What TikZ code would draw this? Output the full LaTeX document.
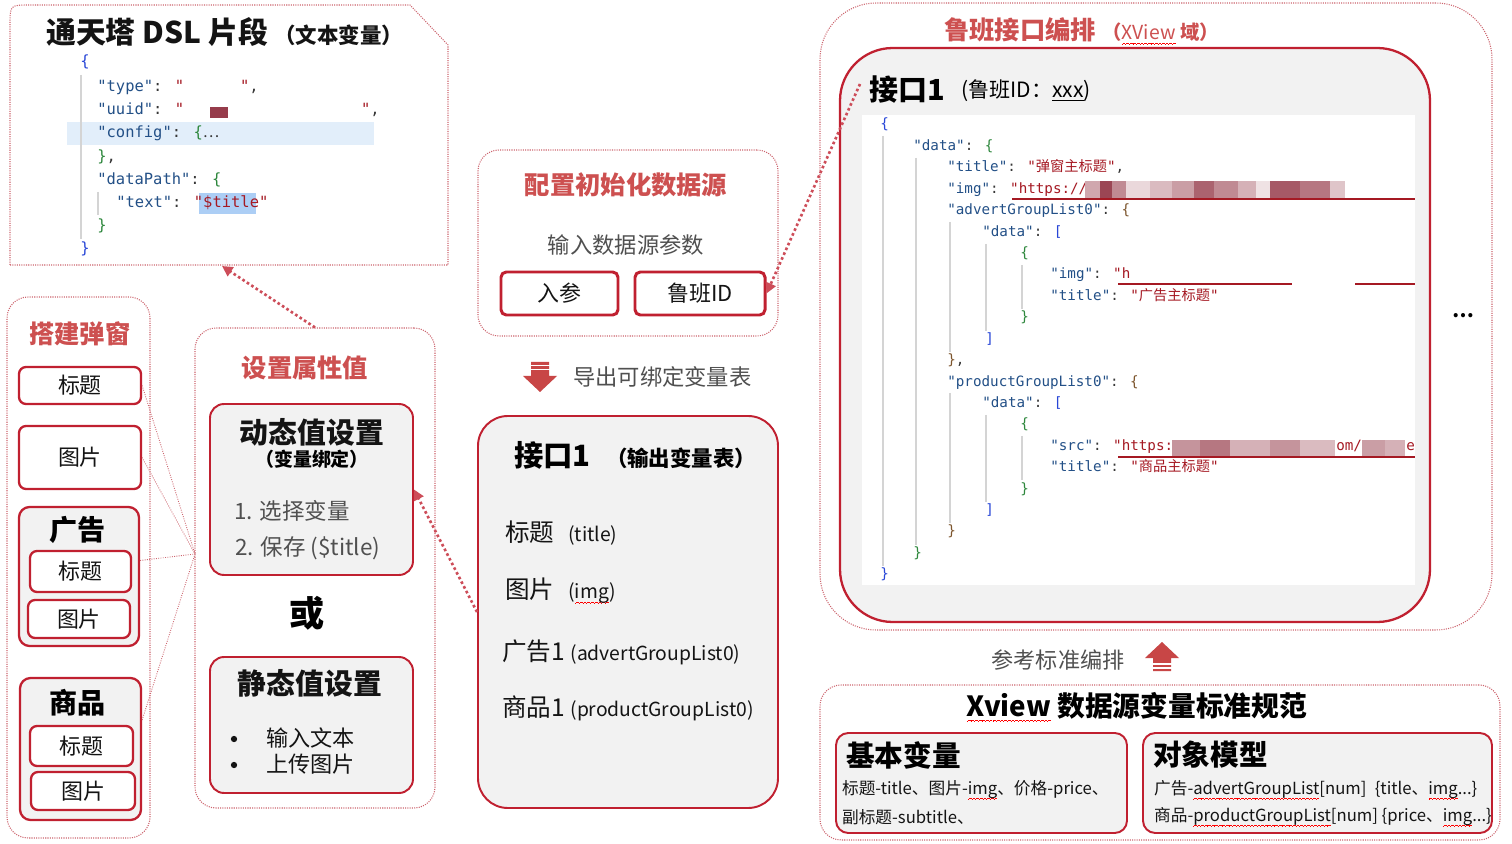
\documentclass[tikz,border=0pt]{standalone}
\usepackage{fontspec}
\setmainfont{Noto Sans CJK SC}
\newfontfamily\cjk{Noto Sans CJK SC}
\newfontfamily\codefont{DejaVu Sans Mono}
\usetikzlibrary{positioning, fit, calc, arrows.meta}
\definecolor{myred}{RGB}{192,32,48}
\definecolor{titlered}{RGB}{205,80,80}
\definecolor{dotred}{RGB}{205,100,110}
\definecolor{panelgray}{RGB}{242,242,242}
\definecolor{txtgray}{RGB}{80,80,80}
\definecolor{mydark}{RGB}{20,20,20}
\definecolor{codekey}{RGB}{35,80,135}
\definecolor{codestr}{RGB}{165,25,35}
\definecolor{codeblue}{RGB}{40,70,215}
\definecolor{codegreen}{RGB}{45,135,60}
\definecolor{codebrown}{RGB}{125,85,45}
\definecolor{blurred}{RGB}{150,60,75}
\definecolor{hilite}{RGB}{226,238,250}
\definecolor{selblue}{RGB}{172,206,245}
\definecolor{guide}{RGB}{212,212,212}
\definecolor{arrowred}{RGB}{200,70,70}
\newcommand\fs[1]{\fontsize{#1}{#1}\selectfont}
\newcommand\ckey[1]{\textcolor{codekey}{"#1"}}
\newcommand\cstr[1]{\textcolor{codestr}{"#1"}}
% red spell-check squiggle under a word
\newlength\wavelen
\newcommand\waveunit{\hbox{\rule[-2.9pt]{0.5pt}{0.45pt}\rule[-2.55pt]{0.5pt}{0.45pt}%
  \rule[-2.2pt]{0.5pt}{0.45pt}\rule[-2.55pt]{0.5pt}{0.45pt}}}
\newcommand\redwave[1]{\settowidth\wavelen{#1}\leavevmode
  \rlap{\textcolor{red}{\hbox to\wavelen{\xleaders\waveunit\hfil}}}#1}
\tikzset{
  dotpanel/.style={draw=dotred, line width=0.6pt, dash pattern=on 0.6pt off 0.7pt,
    rounded corners=12pt, inner sep=0pt},
  redbox/.style={draw=myred, line width=1.3pt, fill=white, rounded corners=4pt, inner sep=0pt},
  thickbox/.style={redbox, line width=1.7pt, rounded corners=3pt},
  graybox/.style={draw=myred, line width=1.1pt, fill=panelgray, rounded corners=8pt, inner sep=0pt},
  boxtext/.style={label={[font=\fs{12.5}, text=mydark]center:#1}},
  bulletdot/.style={circle, fill=mydark, inner sep=0pt, minimum size=3.6pt},
  dotarrow/.style={draw=myred!80, line width=1.5pt, dash pattern=on 1.5pt off 1.5pt,
    -{Triangle[length=6pt,width=6pt]}},
  fanline/.style={draw=dotred, line width=0.5pt, dash pattern=on 0.5pt off 0.8pt},
  guideline/.style={draw=guide, line width=0.6pt},
  dsl/.style={anchor=base west, inner sep=0pt, font=\codefont\fs{8.8}, text=mydark!85},
  lb/.style={anchor=base west, inner sep=0pt, font=\codefont\fs{8.1}, text=mydark!85},
  redtitle/.style={font=\bfseries\fs{14.4}, text=titlered},
  boldtitle/.style={font=\bfseries\fs{16.4}, text=mydark},
  itemtext/.style={font=\fs{12.6}, text=mydark, inner sep=1pt}
}
\begin{document}
\begin{tikzpicture}[x=0.02cm, y=-0.02cm]
  \useasboundingbox (0,0) rectangle (1512,844);
  \fill[white] (0,0) rectangle (1512,844);

  % DSL snippet
  \draw[dotpanel, rounded corners=0pt] (10,265) -- (10,25) .. controls (10,5) .. (30,5)
    -- (410,5) -- (448,45) -- (448,265) -- cycle;
  \coordinate (dslbot) at (222,266);
  \node[anchor=west, font=\bfseries\fs{17}, text=mydark] (dsltitle) at (40,32) {通天塔 DSL 片段};
  \node[anchor=base west, font=\bfseries\fs{12.2}, text=mydark, inner sep=0pt] (dslsub)
    at (dsltitle.base east) {（文本变量）};
  \fill[hilite] (67,122) rectangle (374,145);
  \fill[selblue] (199,193) rectangle (256,214);
  \draw[guideline] (81,75) -- (81,239);
  \draw[guideline] (98,192) -- (98,215);
  \node[dsl] (d1) at (80,67) {\textcolor{codeblue}{\{}};
  \node[dsl] (d2) at (97,92) {\ckey{type}: \cstr{\phantom{000000}},};
  \node[dsl] (d3) at (97,115) {\ckey{uuid}: \cstr{\phantom{0000000000000000000}},};
  \fill[blurred] (210,107) rectangle (228,118);
  \node[dsl] (d4) at (97,138) {\ckey{config}: \textcolor{codegreen}{\{}{\cjk ⋯}};
  \node[dsl] (d5) at (97,162) {\textcolor{codegreen}{\}},};
  \node[dsl] (d6) at (97,185) {\ckey{dataPath}: \textcolor{codegreen}{\{}};
  \node[dsl] (d7) at (116,208) {\ckey{text}: \cstr{\$title}};
  \node[dsl] (d8) at (97,231) {\textcolor{codegreen}{\}}};
  \node[dsl] (d9) at (80,254) {\textcolor{codeblue}{\}}};

  % Popup builder
  \node[dotpanel, fit={(7,297) (150,838)}] (build) {};
  \node[redtitle] (buildtitle) at (80,334) {搭建弹窗};
  \node[redbox, fit={(19,367) (141,404)}, boxtext=标题] (bt) {};
  \node[redbox, fit={(19,426) (141,489)}, boxtext=图片] (bi) {};
  \node[graybox, rounded corners=6pt, line width=1.3pt, fit={(19,507) (139,646)}] (adgrp) {};
  \node[font=\bfseries\fs{16}] (adtitle) at (78,530) {广告};
  \node[redbox, fit={(30,551) (131,592)}, boxtext=标题] (adt) {};
  \node[redbox, fit={(28,600) (130,638)}, boxtext=图片] (adi) {};
  \node[graybox, rounded corners=6pt, line width=1.3pt, fit={(20,678) (141,820)}] (pdgrp) {};
  \node[font=\bfseries\fs{16}] (pdtitle) at (78,703) {商品};
  \node[redbox, fit={(30,726) (133,766)}, boxtext=标题] (pdt) {};
  \node[redbox, fit={(31,772) (135,810)}, boxtext=图片] (pdi) {};

  % Attribute values
  \node[dotpanel, fit={(195,328) (435,808)}] (attr) {};
  \node[redtitle] (attrtitle) at (305,368) {设置属性值};
  \node[graybox, fit={(210,404) (413,575)}] (dyn) {};
  \node[boldtitle] (dyntitle) at (312,432) {动态值设置};
  \node[font=\bfseries\fs{10.8}] (dynsub) at (312,459) {（变量绑定）};
  \node[anchor=west, itemtext, font=\fs{12.8}, text=txtgray] (step1) at (232,511) {1. 选择变量};
  \node[anchor=west, itemtext, font=\fs{12.8}, text=txtgray] (step2) at (233,548) {2. 保存 (\$title)};
  \node[font=\bfseries\fs{20}] (orword) at (307,613) {或};
  \node[graybox, fit={(210,657) (413,793)}] (stat) {};
  \node[boldtitle] (stattitle) at (310,683) {静态值设置};
  \node[bulletdot] (bul1) at (234,739) {};
  \node[bulletdot] (bul2) at (234,765) {};
  \node[anchor=west, itemtext] (stat1) at (264,738) {输入文本};
  \node[anchor=west, itemtext] (stat2) at (264,764) {上传图片};

  % Data source setup
  \node[dotpanel, fit={(478,150) (778,336)}] (cfg) {};
  \node[redtitle] (cfgtitle) at (626,185) {配置初始化数据源};
  \node[font=\fs{12.7}, text=txtgray] (cfgsub) at (626,245) {输入数据源参数};
  \node[thickbox, fit={(501,272) (618,315)}, boxtext=入参] (inparam) {};
  \node[thickbox, fit={(635,272) (765,315)}, boxtext=鲁班ID] (lbid) {};

  % Export arrow
  \fill[arrowred] (531,362) -- (549,362) -- (549,376) -- (557,376) -- (540,392)
    -- (523,376) -- (531,376) -- cycle;
  \draw[white, line width=0.8pt] (530,365.5) -- (550,365.5) (530,369.5) -- (550,369.5);
  \node[anchor=west, itemtext, font=\fs{12.7}, text=txtgray] (export) at (571,377) {导出可绑定变量表};

  % Output variable table
  \node[graybox, rounded corners=17pt, fit={(478,416) (778,808)}] (outbox) {};
  \node[anchor=west, font=\bfseries\fs{16.7}] (outtitle) at (508,455) {接口1};
  \node[anchor=base west, font=\bfseries\fs{12.2}, inner sep=0pt] (outsub)
    at ([xshift=5pt]outtitle.base east) {（输出变量表）};
  \node[anchor=west, itemtext, font=\fs{14}] (v1) at (503,533) {标题\hspace{8pt}{\fs{11}(title)}};
  \node[anchor=west, itemtext, font=\fs{14}] (v2) at (503,591) {图片\hspace{8pt}{\fs{11}(\redwave{img})}};
  \node[anchor=west, itemtext, font=\fs{14}] (v3) at (500,652) {广告1 {\fs{11}(advertGroupList0)}};
  \node[anchor=west, itemtext, font=\fs{14}] (v4) at (500,708) {商品1 {\fs{11}(productGroupList0)}};

  % Luban interface
  \node[dotpanel, rounded corners=32pt, fit={(820,3) (1492,630)}] (lubanpanel) {};
  \node[redtitle] (lubantitle) at (1020,30) {鲁班接口编排};
  \node[anchor=base west, font=\bfseries\fs{11}, text=titlered, inner sep=0pt] (lubansub)
    at (lubantitle.base east) {（{\mdseries\redwave{XView}} 域）};
  \node[graybox, rounded corners=30pt, line width=1.3pt, fit={(840,48) (1430,622)}] (jk) {};
  \fill[white] (862,115) rectangle (1415,585);
  \coordinate (jkedge) at (860,84);
  \node[anchor=west, font=\bfseries\fs{16.5}] (jktitle) at (863,90) {接口1};
  \node[anchor=west, font=\fs{12}] (jksub) at (955,91) {(鲁班ID：\underline{xxx})};
  \draw[guideline] (883,136) -- (883,566);
  \draw[guideline] (916,158) -- (916,545);
  \draw[guideline] (950,222) -- (950,352) (950,393) -- (950,523);
  \draw[guideline] (986,244) -- (986,331) (986,415) -- (986,502);
  \draw[guideline] (1022,265) -- (1022,309) (1022,436) -- (1022,480);
  \node[lb] (l1) at (880,129) {\textcolor{codeblue}{\{}};
  \node[lb] (l2) at (913,151) {\ckey{data}: \textcolor{codegreen}{\{}};
  \node[lb] (l3) at (947,172) {\ckey{title}: \cstr{{\cjk 弹窗主标题}},};
  \node[lb] (l4) at (947,194) {\ckey{img}: \textcolor{codestr}{"https://}};
  \foreach \xa/\xb/\pc in {1085/1100/45, 1100/1112/95, 1112/1126/60, 1126/1150/20,
      1150/1172/35, 1172/1194/50, 1194/1214/80, 1214/1238/60, 1238/1256/40,
      1256/1270/15, 1270/1300/85, 1300/1330/70, 1330/1345/30}
    \fill[blurred!\pc!white] (\xa,181) rectangle (\xb,198);
  \draw[codestr, line width=0.7pt] (1012,199) -- (1415,199);
  \node[lb] (l5) at (947,215) {\ckey{advertGroupList0}: \textcolor{codebrown}{\{}};
  \node[lb] (l6) at (982,237) {\ckey{data}: \textcolor{codeblue}{[}};
  \node[lb] (l7) at (1020,258) {\textcolor{codegreen}{\{}};
  \node[lb] (l8) at (1050,279) {\ckey{img}: \textcolor{codestr}{"h}};
  \draw[codestr, line width=0.7pt] (1118,284) -- (1292,284) (1355,284) -- (1415,284);
  \node[lb] (l9) at (1050,301) {\ckey{title}: \cstr{{\cjk 广告主标题}}};
  \node[lb] (l10) at (1020,322) {\textcolor{codegreen}{\}}};
  \node[lb] (l11) at (985,344) {\textcolor{codeblue}{]}};
  \node[lb] (l12) at (947,365) {\textcolor{codebrown}{\}},};
  \node[lb] (l13) at (947,387) {\ckey{productGroupList0}: \textcolor{codebrown}{\{}};
  \node[lb] (l14) at (982,408) {\ckey{data}: \textcolor{codeblue}{[}};
  \node[lb] (l15) at (1020,429) {\textcolor{codegreen}{\{}};
  \node[lb] (l16) at (1050,451) {\ckey{src}: \textcolor{codestr}{"https:}};
  \foreach \xa/\xb/\pc in {1172/1200/55, 1200/1230/70, 1230/1270/40, 1270/1300/55,
      1300/1335/35, 1362/1385/50, 1385/1405/40}
    \fill[blurred!\pc!white] (\xa,440) rectangle (\xb,456);
  \node[lb, text=codestr] (l16b) at (1336,451) {om/};
  \node[lb, text=codestr] (l16c) at (1406,451) {e};
  \draw[codestr, line width=0.7pt] (1118,457) -- (1415,457);
  \node[lb] (l17) at (1050,472) {\ckey{title}: \cstr{{\cjk 商品主标题}}};
  \node[lb] (l18) at (1020,494) {\textcolor{codegreen}{\}}};
  \node[lb] (l19) at (985,515) {\textcolor{codeblue}{]}};
  \node[lb] (l20) at (947,536) {\textcolor{codebrown}{\}}};
  \node[lb] (l21) at (913,558) {\textcolor{codegreen}{\}}};
  \node[lb] (l22) at (880,579) {\textcolor{codeblue}{\}}};
  \node[font=\bfseries\fs{11}] (more) at (1463,316) {…};

  % Standard spec
  \node[itemtext, text=txtgray] (refstd) at (1058,660) {参考标准编排};
  \fill[arrowred] (1162,642) -- (1179,658) -- (1171,658) -- (1171,671) -- (1153,671)
    -- (1153,658) -- (1145,658) -- cycle;
  \draw[white, line width=0.8pt] (1152,664) -- (1172,664) (1152,668) -- (1172,668);
  \node[dotpanel, fit={(820,685) (1500,840)}] (spec) {};
  \node[font=\bfseries\fs{15.8}] (spectitle) at (1137,707) {\redwave{Xview} 数据源变量标准规范};
  \node[graybox, rounded corners=7pt, fit={(836,733) (1127,833)}] (basic) {};
  \node[anchor=west, font=\bfseries\fs{16.3}] (basictitle) at (840,755) {基本变量};
  \node[anchor=west, itemtext, font=\fs{9.5}] (basic1) at (840,790) {标题-title、图片-\redwave{img}、价格-price、};
  \node[anchor=west, itemtext, font=\fs{9.5}] (basic2) at (840,817) {副标题-subtitle、};
  \node[graybox, rounded corners=7pt, fit={(1143,733) (1492,833)}] (obj) {};
  \node[anchor=west, font=\bfseries\fs{16.3}] (objtitle) at (1147,755) {对象模型};
  \node[anchor=west, itemtext, font=\fs{9.5}] (obj1) at (1152,790)
    {广告-\redwave{advertGroupList}[num]\enspace\{title、\redwave{img}...\}};
  \node[anchor=west, itemtext, font=\fs{9.5}] (obj2) at (1152,817)
    {商品-\redwave{productGroupList}[num] \{price、\redwave{img}...\}};

  % Connectors
  \coordinate (fan) at (195,554);
  \draw[fanline] (bt.east) -- (fan);
  \draw[fanline] (bi.east) -- (fan);
  \draw[fanline] ($(adgrp.east)+(0,-16)$) -- (fan);
  \draw[fanline] ($(pdgrp.east)+(0,-29)$) -- (fan);
  \draw[dotarrow] (attr.north) -- (dslbot);
  \draw[dotarrow] (outbox.west) -- (dyn.east);
  \draw[dotarrow] (jkedge) -- (lbid.east);
\end{tikzpicture}
\end{document}
